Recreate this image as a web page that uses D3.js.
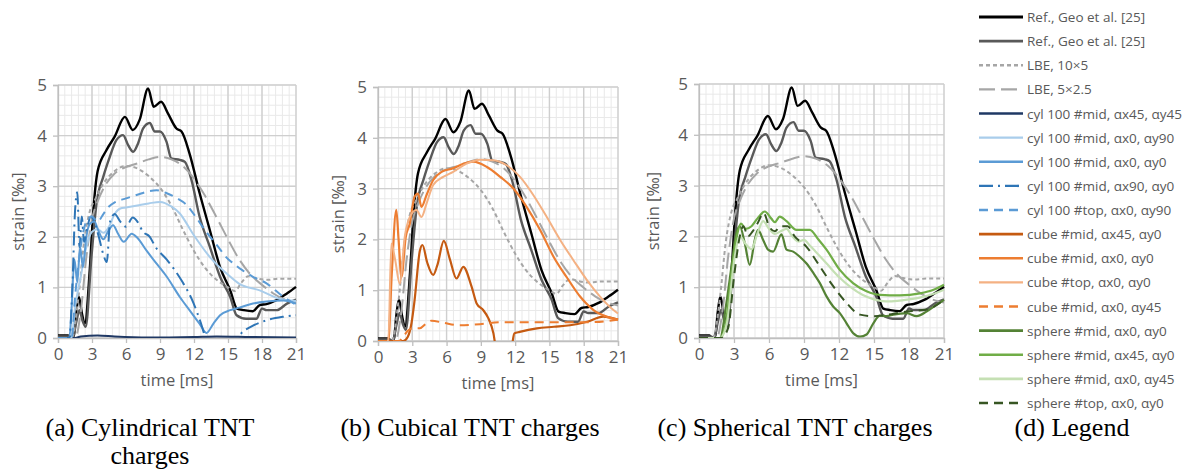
<!DOCTYPE html>
<html>
<head>
<meta charset="utf-8">
<script src="https://cdn.jsdelivr.net/npm/d3@7"></script>
<style>
  body { margin: 0; background: #fff; }
  svg { display: block; }
</style>
</head>
<body>
<svg id="chart" width="1192" height="471"></svg>
<script>
// tick labels
const xTicks = [0, 3, 6, 9, 12, 15, 18, 21];
const yTicks = [0, 1, 2, 3, 4, 5];

// reference curves (same in every panel), [time ms, strain ‰]
const refBlack = [[0,0.05],[0.9,0.05],[1.1,0],[1.4,0.05],[1.6,0.5],[1.85,0.81],[2.1,0.5],[2.36,0.28],[2.8,1.34],[3.1,2.46],[3.5,3.3],[4.27,3.71],[5,3.98],[5.9,4.37],[6.6,4.11],[7.2,4.31],[7.95,4.93],[8.45,4.57],[9.1,4.67],[9.7,4.44],[10.45,4.14],[10.9,4.08],[11.6,3.65],[12.5,2.86],[13.4,2.13],[14.3,1.4],[15.2,0.94],[15.8,0.58],[16.4,0.55],[17.2,0.53],[17.8,0.65],[18.4,0.67],[19.3,0.75],[20.2,0.88],[21,1.01]];
const refGray = [[0,0.03],[1.0,0.03],[1.3,0],[1.6,0.3],[1.9,0.55],[2.15,0.35],[2.44,0.22],[2.95,1.6],[3.4,2.66],[4.0,3.19],[4.57,3.58],[5.15,3.91],[5.74,4.01],[6.19,3.81],[6.63,3.68],[7.07,3.85],[7.5,4.14],[8.1,4.25],[8.54,4.08],[9.0,4.08],[9.57,3.88],[10.0,3.55],[10.75,3.52],[11.2,3.48],[11.78,3.12],[12.5,2.39],[13.4,1.8],[14.3,1.21],[15.2,0.81],[15.76,0.45],[16.6,0.38],[17.5,0.38],[18.0,0.58],[18.4,0.55],[19.3,0.55],[20.2,0.68],[21,0.76]];
const lbe10x5 = [[0,0],[1.2,0],[1.8,0.8],[2.3,1.9],[2.8,2.5],[3.3,2.75],[4,3.05],[5,3.3],[6,3.4],[7,3.35],[8,3.2],[9,2.97],[10,2.62],[11,2.15],[12,1.72],[13,1.38],[14,1.15],[15,1.0],[15.6,0.93],[16.2,1.1],[16.8,1.22],[17.5,1.18],[18.5,1.15],[19.5,1.17],[21,1.17]];
const lbe5x25 = [[0,0],[1.5,0],[2.0,0.5],[2.5,1.6],[3,2.35],[3.5,2.7],[4,2.95],[5,3.25],[6,3.38],[7,3.45],[8,3.53],[9,3.58],[10,3.53],[11,3.4],[12,3.15],[13,2.8],[14,2.38],[15,1.95],[16,1.55],[17,1.25],[18,1.05],[19,0.88],[20,0.76],[21,0.7]];

// (a) cylindrical charges
const cylMid4545 = [[0,0],[1.5,0],[2,0.03],[3.5,0.05],[5,0.03],[8,0.01],[12,0.02],[14,0.03],[17,0.02],[21,0.01]];
const cylMid090 = [[0,0],[1.2,0],[1.5,0.6],[2,1.2],[2.5,1.8],[3,2.1],[3.5,2.15],[4,2.08],[4.5,2.2],[5,2.45],[5.5,2.56],[6,2.58],[7,2.62],[8,2.66],[9,2.69],[10,2.6],[10.75,2.46],[11.9,2.06],[13.4,1.6],[14.9,1.27],[16,1.07],[17.8,0.94],[19.6,0.77],[21,0.73]];
const cylMid00 = [[0,0],[1.0,0],[1.2,0.6],[1.45,1.55],[1.7,1.1],[1.95,1.8],[2.2,1.4],[2.5,2.0],[2.8,2.25],[3.2,2.3],[3.6,2.1],[4.0,1.95],[4.4,2.1],[4.86,2.23],[5.3,2.06],[5.8,1.9],[6.5,2.06],[7.0,1.98],[7.8,1.73],[8.7,1.47],[9.6,1.21],[10.75,0.81],[11.6,0.55],[12.5,0.28],[13.1,0.1],[13.7,0.28],[14.3,0.45],[15.2,0.55],[16,0.6],[17.2,0.68],[18.4,0.72],[19.9,0.74],[21,0.68]];
const cylMid900 = [[0,0],[1.0,0],[1.3,1.2],[1.5,2.5],[1.7,2.88],[1.9,1.8],[2.1,2.4],[2.3,1.9],[2.6,2.2],[2.9,2.4],[3.2,2.3],[3.6,2.0],[4.0,1.65],[4.3,1.5],[4.6,2.3],[5.0,2.45],[5.5,2.3],[6,2.2],[6.6,2.38],[7.0,2.3],[7.5,2.1],[8.1,2.0],[8.6,1.8],[9.6,1.55],[11.0,1.1],[11.9,0.72],[12.6,0.3],[13.2,-0.1],[14.5,-0.3],[15.5,-0.15],[16.2,0.1],[17,0.22],[18.4,0.35],[19.9,0.42],[21,0.45]];
const cylTop090 = [[0,0],[1.2,0],[1.5,0.8],[2,1.8],[2.5,2.3],[3,2.4],[3.5,2.3],[4,2.45],[4.5,2.6],[5,2.68],[6,2.76],[7,2.83],[8,2.9],[8.7,2.92],[9.5,2.87],[10.5,2.76],[11.3,2.64],[12.2,2.38],[13,2.12],[14,1.84],[15,1.56],[15.5,1.47],[16.2,1.35],[17.2,1.21],[18.4,1.08],[19.9,0.81],[21,0.66]];

// (b) cubical charges
const cubeMid450 = [[0,0],[2.2,0],[2.6,0.08],[2.93,0.35],[3.2,0.8],[3.65,1.76],[3.89,1.89],[4.3,1.55],[4.83,1.3],[5.2,1.5],[5.76,1.97],[6.3,1.6],[6.87,1.23],[7.46,1.46],[8.19,1.07],[8.63,0.74],[9.2,0.61],[9.65,0.45],[10.1,0.15],[10.3,-0.1],[11.0,-0.3],[11.7,-0.1],[11.93,0.15],[12.4,0.18],[13.9,0.25],[15.4,0.28],[16.8,0.31],[18.3,0.38],[19.7,0.48],[21,0.42]];
const cubeMid00 = [[0,0],[0.9,0],[1.2,1.3],[1.6,2.58],[1.8,2.0],[2.05,1.26],[2.43,2.05],[2.78,2.31],[3.2,2.84],[3.5,2.9],[3.8,2.64],[4.24,2.87],[4.83,3.17],[5.56,3.33],[6.58,3.4],[7.46,3.49],[8.34,3.53],[9.5,3.43],[10.7,3.23],[11.85,3.0],[13.0,2.64],[14.2,2.18],[15.36,1.66],[16.5,1.26],[17.7,0.87],[18.86,0.61],[20.0,0.48],[21,0.42]];
const cubeTop00 = [[0,0],[0.9,0],[1.17,1.92],[1.5,1.6],[1.9,1.13],[2.34,2.05],[2.78,2.44],[3.36,2.58],[3.8,2.44],[4.24,2.7],[4.83,3.07],[5.7,3.23],[6.58,3.33],[7.75,3.49],[8.92,3.57],[10.1,3.56],[11.26,3.46],[12.43,3.23],[13.6,2.87],[14.77,2.44],[15.94,1.99],[17.1,1.59],[18.28,1.2],[19.45,0.87],[20.6,0.61],[21,0.54]];
const cubeMid045 = [[0,0],[1.8,0],[2.2,0.08],[2.6,0.2],[3.07,0.25],[3.65,0.25],[4.24,0.35],[4.68,0.4],[5.7,0.36],[7.17,0.31],[8.92,0.33],[10.67,0.37],[12.4,0.37],[15.36,0.37],[18.3,0.37],[20.6,0.41],[21,0.43]];

// (c) spherical charges
const sphMid00 = [[0,0],[1.8,0],[2.35,0.69],[2.9,1.6],[3.2,2.06],[3.5,2.2],[3.92,1.87],[4.35,1.44],[4.78,1.93],[5.06,2.13],[5.5,1.93],[5.92,1.74],[6.35,1.7],[7.07,2.04],[7.5,1.74],[8.07,1.7],[8.64,1.6],[9.2,1.47],[9.8,1.28],[10.36,1.08],[10.93,0.82],[11.5,0.62],[12.07,0.49],[12.65,0.29],[13.2,0.1],[13.8,0.03],[14.36,0.07],[14.94,0.29],[15.5,0.44],[16.1,0.43],[16.65,0.46],[17.8,0.49],[18.65,0.43],[19.5,0.52],[20.4,0.66],[21,0.75]];
const sphMid450 = [[0,0],[1.8,0],[2.3,0.3],[2.8,1.3],[3.2,1.95],[3.6,2.25],[4.0,2.15],[4.5,2.2],[5.0,2.35],[5.64,2.49],[6.2,2.35],[6.5,2.28],[6.92,2.39],[7.5,2.3],[8.35,2.13],[9.5,2.13],[10.2,1.95],[10.93,1.74],[12.07,1.34],[13.2,1.08],[14.36,0.92],[15.5,0.85],[17.2,0.84],[18.94,0.88],[20.1,0.95],[21,1.05]];
const sphMid045 = [[0,0],[1.8,0],[2.4,0.3],[3,1.5],[3.5,2.0],[4,1.85],[4.5,1.75],[5,2.05],[5.5,2.3],[6,2.15],[6.5,2.05],[7,2.1],[7.5,2.15],[8,2.0],[8.5,1.9],[9,1.93],[9.5,1.82],[10,1.7],[11,1.45],[12,1.2],[13,1.0],[14,0.85],[15,0.76],[16,0.72],[17,0.73],[18,0.76],[19,0.8],[20,0.86],[21,0.95]];
const sphTop00 = [[0,0],[1.9,0],[2.5,0.2],[3,1.2],[3.5,2.0],[3.8,2.2],[4.2,2.0],[4.6,2.1],[5.0,2.25],[5.55,2.46],[6,2.2],[6.5,2.1],[7,2.2],[7.6,2.2],[8.2,2.0],[9.2,1.8],[10.36,1.41],[11.5,1.02],[12.65,0.69],[13.8,0.46],[14.94,0.43],[16.5,0.47],[17.8,0.52],[19.5,0.56],[21,0.75]];

// legend labels
const legendLabels = ["Ref., Geo et al. [25]", "Ref., Geo et al. [25]", "LBE, 10×5", "LBE, 5×2.5",
  "cyl 100 #mid, αx45, αy45", "cyl 100 #mid, αx0, αy90", "cyl 100 #mid, αx0, αy0", "cyl 100 #mid, αx90, αy0", "cyl 100 #top, αx0, αy90",
  "cube #mid, αx45, αy0", "cube #mid, αx0, αy0", "cube #top, αx0, αy0", "cube #mid, αx0, αy45",
  "sphere #mid, αx0, αy0", "sphere #mid, αx45, αy0", "sphere #mid, αx0, αy45", "sphere #top, αx0, αy0"];

const captions = [["(a) Cylindrical TNT", "charges"], ["(b) Cubical TNT charges"], ["(c) Spherical TNT charges"], ["(d) Legend"]];

// line styles, same order as the legend
const styles = [
  { color: "#000000", width: 2.4, dash: null },
  { color: "#595959", width: 2.4, dash: null },
  { color: "#a6a6a6", width: 2, dash: "4,3" },
  { color: "#a6a6a6", width: 2, dash: "16,6" },
  { color: "#1f3864", width: 2, dash: null },
  { color: "#a9cdeb", width: 2, dash: null },
  { color: "#5b9bd5", width: 2, dash: null },
  { color: "#2e75b6", width: 2, dash: "14,5,2,5" },
  { color: "#5b9bd5", width: 2, dash: "9,6" },
  { color: "#c55a11", width: 2.2, dash: null },
  { color: "#ed7d31", width: 2.2, dash: null },
  { color: "#f4b183", width: 2, dash: null },
  { color: "#ed7d31", width: 2, dash: "9,6" },
  { color: "#548235", width: 2.2, dash: null },
  { color: "#70ad47", width: 2.2, dash: null },
  { color: "#c5e0b4", width: 2.2, dash: null },
  { color: "#375623", width: 2, dash: "9,6" }
];

const refs = [refBlack, refGray, lbe10x5, lbe5x25];

const panels = [
  { x0: 58, x1: 296, y0: 85, y1: 338, labelX: 18, series: [[cylMid4545, 4], [cylMid090, 5], [cylMid00, 6], [cylMid900, 7], [cylTop090, 8]] },
  { x0: 378, x1: 618, y0: 87, y1: 341, labelX: 338, series: [[cubeMid450, 9], [cubeMid00, 10], [cubeTop00, 11], [cubeMid045, 12]] },
  { x0: 699, x1: 944, y0: 84, y1: 338, labelX: 653, series: [[sphMid00, 13], [sphMid450, 14], [sphMid045, 15], [sphTop00, 16]] }
];

const sansFont = "'Open Sans', sans-serif";
const svg = d3.select("#chart");

const drawPanel = (p, i) => {
  const x = d3.scaleLinear().domain([0, 21]).range([p.x0, p.x1]);
  const y = d3.scaleLinear().domain([0, 5]).range([p.y1, p.y0]);
  const g = svg.append("g").attr("class", "panel");

  // minor grid: 0.6 ms / 0.2 ‰
  const minorX = d3.range(0, 21.001, 0.6);
  const minorY = d3.range(0, 5.001, 0.2);
  g.append("g").selectAll("line").data(minorX).join("line")
    .attr("x1", d => x(d)).attr("x2", d => x(d)).attr("y1", p.y0).attr("y2", p.y1)
    .attr("stroke", "#e9e9e9").attr("stroke-width", 1);
  g.append("g").selectAll("line").data(minorY).join("line")
    .attr("x1", p.x0).attr("x2", p.x1).attr("y1", d => y(d)).attr("y2", d => y(d))
    .attr("stroke", "#e9e9e9").attr("stroke-width", 1);

  // major grid
  g.append("g").selectAll("line").data(xTicks).join("line")
    .attr("x1", d => x(d)).attr("x2", d => x(d)).attr("y1", p.y0).attr("y2", p.y1)
    .attr("stroke", "#cfcfcf").attr("stroke-width", 1.4);
  g.append("g").selectAll("line").data(yTicks).join("line")
    .attr("x1", p.x0).attr("x2", p.x1).attr("y1", d => y(d)).attr("y2", d => y(d))
    .attr("stroke", "#cfcfcf").attr("stroke-width", 1.4);

  // axes
  const axisX = d3.axisBottom(x).tickValues(xTicks).tickFormat(d3.format("d")).tickSize(5).tickPadding(5);
  const axisY = d3.axisLeft(y).tickValues(yTicks).tickFormat(d3.format("d")).tickSize(5).tickPadding(6);
  const gx = g.append("g").attr("transform", "translate(0," + p.y1 + ")").call(axisX);
  const gy = g.append("g").attr("transform", "translate(" + p.x0 + ",0)").call(axisY);
  [gx, gy].forEach(a => {
    a.attr("font-size", 17).attr("font-family", sansFont);
    a.select(".domain").attr("stroke", "#bfbfbf").attr("stroke-width", 1.3);
    a.selectAll(".tick line").attr("stroke", "#bfbfbf").attr("stroke-width", 1.3);
    a.selectAll(".tick text").attr("fill", "#595959");
  });

  g.append("text")
    .attr("x", (p.x0 + p.x1) / 2).attr("y", p.y1 + 48)
    .attr("text-anchor", "middle")
    .attr("font-family", sansFont).attr("font-size", 16.5).attr("fill", "#595959")
    .text("time [ms]");
  g.append("text")
    .attr("transform", "translate(" + (p.labelX + 6) + "," + (p.y0 + p.y1) / 2 + ") rotate(-90)")
    .attr("text-anchor", "middle")
    .attr("font-family", sansFont).attr("font-size", 16.5).attr("fill", "#595959")
    .text("strain [‰]");

  // curves
  const clipId = "clip" + i;
  svg.append("clipPath").attr("id", clipId).append("rect")
    .attr("x", p.x0 - 1).attr("y", p.y0 - 1).attr("width", p.x1 - p.x0 + 2).attr("height", p.y1 - p.y0 + 1);

  const line = d3.line().x(d => x(d[0])).y(d => y(d[1])).curve(d3.curveMonotoneX);
  const all = refs.map((d, k) => [d, k]).concat(p.series);
  g.append("g").attr("clip-path", "url(#" + clipId + ")")
    .selectAll("path").data(all).join("path")
    .attr("d", d => line(d[0]))
    .attr("fill", "none")
    .attr("stroke", d => styles[d[1]].color)
    .attr("stroke-width", d => styles[d[1]].width)
    .attr("stroke-dasharray", d => styles[d[1]].dash)
    .attr("stroke-linejoin", "round");
};

panels.forEach(drawPanel);

// legend
const legendY = d3.scalePoint().domain(d3.range(legendLabels.length)).range([17, 403]);
const legend = svg.append("g").attr("class", "legend");
const rows = legend.selectAll("g").data(legendLabels).join("g")
  .attr("transform", (d, k) => "translate(0," + legendY(k) + ")");
rows.append("line")
  .attr("x1", 979).attr("x2", 1023).attr("y1", 0).attr("y2", 0)
  .attr("stroke", (d, k) => styles[k].color)
  .attr("stroke-width", (d, k) => styles[k].width + 0.4)
  .attr("stroke-dasharray", (d, k) => styles[k].dash);
rows.append("text")
  .attr("x", 1027).attr("y", 5)
  .attr("font-family", sansFont).attr("font-size", 13.5).attr("fill", "#595959")
  .text(d => d);

// captions
const captionX = [150, 470, 795, 1072];
captions.forEach((lines, k) => {
  lines.forEach((t, j) => {
    svg.append("text")
      .attr("x", captionX[k]).attr("y", 436 + j * 28)
      .attr("text-anchor", "middle")
      .attr("font-family", "'Liberation Serif', 'Times New Roman', serif").attr("font-size", 26).attr("fill", "#000")
      .text(t);
  });
});
</script>
</body>
</html>
